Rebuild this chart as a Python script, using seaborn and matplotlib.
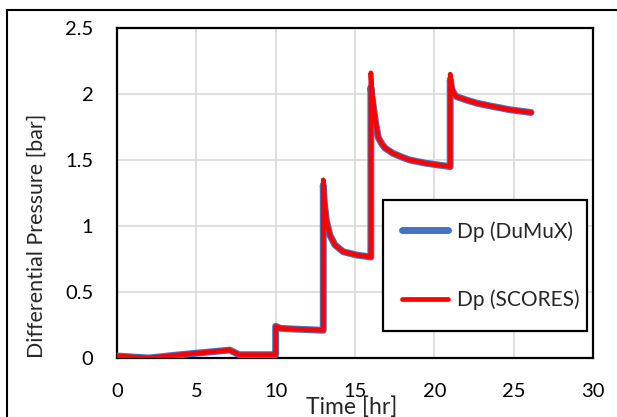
import matplotlib
matplotlib.use("Agg")
import matplotlib.pyplot as plt
import matplotlib.patches as mpatches
import seaborn as sns
import pandas as pd

# ---- data ----
time_hr = [0, 2, 4, 7.1, 7.7, 10, 10, 10.3, 11, 12, 13,
           13, 13.08, 13.2, 13.42, 13.74, 14.26, 15.1, 16,
           16, 16.05, 16.15, 16.3, 16.47, 16.7, 16.9, 17.4, 18, 18.45, 19.5, 20.2, 21,
           21, 21.1, 21.2, 21.4, 22, 22.7, 23.5, 24.8, 26.1]
dp_scores = [0.015, 0.0, 0.025, 0.06, 0.025, 0.025, 0.24, 0.225, 0.22, 0.215, 0.21,
             1.35, 1.18, 1.045, 0.93, 0.856, 0.805, 0.78, 0.765,
             2.16, 2.05, 1.93, 1.79, 1.67, 1.62, 1.59, 1.55, 1.52, 1.50, 1.475, 1.463, 1.45,
             2.15, 2.05, 2.01, 1.98, 1.955, 1.93, 1.91, 1.88, 1.86]
dp_dumux = [0.015, 0.0, 0.025, 0.06, 0.025, 0.025, 0.24, 0.225, 0.22, 0.215, 0.21,
            1.31, 1.16, 1.04, 0.93, 0.856, 0.805, 0.78, 0.765,
            2.05, 2.0, 1.91, 1.78, 1.67, 1.62, 1.59, 1.55, 1.52, 1.50, 1.475, 1.463, 1.45,
            2.11, 2.04, 2.01, 1.98, 1.955, 1.93, 1.91, 1.88, 1.86]
x_ticks = [0, 5, 10, 15, 20, 25, 30]
y_ticks = [0, 0.5, 1, 1.5, 2, 2.5]
y_tick_labels = ["0", "0.5", "1", "1.5", "2", "2.5"]
labels = ["Dp (DuMuX)", "Dp (SCORES)"]

sns.set_style("white")
plt.rcParams["font.family"] = ["Lato", "DejaVu Sans"]

W, H = 617, 417
fig = plt.figure(figsize=(6.17, 4.17), dpi=100)
ax = fig.add_axes([117 / W, 1 - 358 / H, (593 - 117) / W, (358 - 28) / H])

df_d = pd.DataFrame({"t": time_hr, "dp": dp_dumux})
df_s = pd.DataFrame({"t": time_hr, "dp": dp_scores})
sns.lineplot(data=df_d, x="t", y="dp", ax=ax, estimator=None, sort=False,
             color="#4472C4", linewidth=5, solid_capstyle="round", label=labels[0], zorder=3)
sns.lineplot(data=df_s, x="t", y="dp", ax=ax, estimator=None, sort=False,
             color="#FF0000", linewidth=3.4, solid_capstyle="round", label=labels[1], zorder=4)

ax.set_xlim(0, 30)
ax.set_ylim(0, 2.5)
ax.set_xticks(x_ticks)
ax.set_xticklabels([str(v) for v in x_ticks])
ax.set_yticks(y_ticks)
ax.set_yticklabels(y_tick_labels)
ax.tick_params(axis="both", length=0, labelsize=14.5, colors="black")
ax.tick_params(axis="x", pad=18)
ax.tick_params(axis="y", pad=17)
ax.grid(True, color="#d9d9d9", linewidth=1.2)
ax.set_axisbelow(True)
for s in ax.spines.values():
    s.set_visible(True)
    s.set_color("black")
    s.set_linewidth(1.6)
ax.set_xlabel("")
ax.set_ylabel("")

fig.text(37 / W, 1 - 236 / H, "Differential Pressure [bar]", fontsize=15.4,
         rotation=90, ha="center", va="center")
fig.text(352 / W, 1 - 396 / H, "Time [hr]", fontsize=16.5, ha="center", va="top")

# legend (entries) placed without frame; frame drawn as its own box
leg = fig.legend(*ax.get_legend_handles_labels(), loc="upper left",
                 bbox_to_anchor=(401.5 / W, 1 - 221 / H),
                 frameon=False, fontsize=15, labelspacing=2.3,
                 handlelength=2.25, handletextpad=0.4, borderpad=0, borderaxespad=0)
ax.get_legend().remove()
leg.set_zorder(6)
frame = mpatches.Rectangle((383 / W, 1 - 331 / H), (587 - 383) / W, (331 - 200) / H,
                           transform=fig.transFigure, facecolor="white",
                           edgecolor="black", linewidth=1.6, zorder=5)
fig.add_artist(frame)

border = mpatches.Rectangle((7 / W, -0.2), 1.2, (H - 10) / H + 0.2,
                            transform=fig.transFigure, fill=False,
                            edgecolor="black", linewidth=1.5, clip_on=False)
fig.add_artist(border)

fig.savefig("out.png", dpi=100)
